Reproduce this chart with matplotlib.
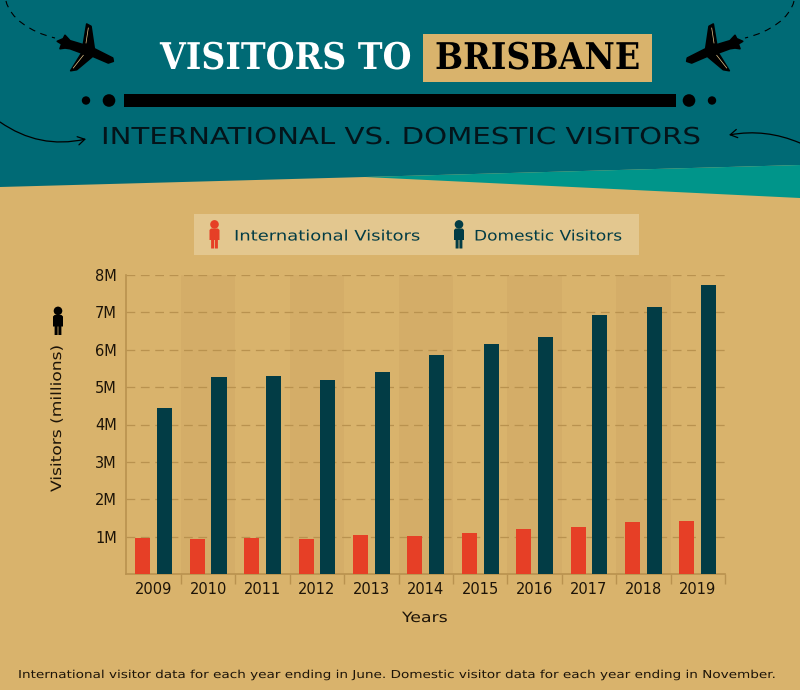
import numpy as np
import matplotlib
matplotlib.use("Agg")
import matplotlib.pyplot as plt
from matplotlib.patches import Polygon, Rectangle, Circle, FancyArrowPatch, PathPatch
from matplotlib.patheffects import AbstractPathEffect
from matplotlib.path import Path
from matplotlib.transforms import Affine2D

years = ["2009", "2010", "2011", "2012", "2013", "2014", "2015", "2016", "2017", "2018", "2019"]
international = [0.95, 0.93, 0.96, 0.93, 1.04, 1.01, 1.10, 1.20, 1.26, 1.38, 1.43]
domestic = [4.44, 5.27, 5.30, 5.18, 5.40, 5.85, 6.15, 6.33, 6.93, 7.15, 7.74]
y_ticks = [1, 2, 3, 4, 5, 6, 7, 8]
y_labels = ["1M", "2M", "3M", "4M", "5M", "6M", "7M", "8M"]

SAND = "#d9b36c"
BAND = "#d4ad68"
TEAL = "#006a75"
TEAL_LIGHT = "#00958a"
RED = "#e63f26"
DARK = "#023c45"
AXIS = "#b9924f"
INK = "#1d1408"

plt.rcParams["font.family"] = "DejaVu Sans"

fig = plt.figure(figsize=(8, 6.9), dpi=100, facecolor=SAND)
renderer = fig.canvas.get_renderer()


class Stretch(AbstractPathEffect):
    """Scale a text's glyphs along one display axis, the fonts here are narrower than the original."""

    def __init__(self, matrix):
        super().__init__()
        self.matrix = matrix

    def draw_path(self, renderer, gc, tpath, affine, rgbFace=None):
        renderer.draw_path(gc, tpath, affine + self.matrix, rgbFace)


def fit_x(text, start, end):
    box = text.get_window_extent(renderer)
    m = Affine2D().translate(-box.x0, 0).scale((end - start) / box.width, 1).translate(start, 0)
    text.set_path_effects([Stretch(m)])


def fit_y(text, top, bottom):
    # top and bottom in picture pixels, counted from the top edge
    box = text.get_window_extent(renderer)
    m = Affine2D().translate(0, -box.y0).scale(1, (bottom - top) / box.height).translate(0, 690 - bottom)
    text.set_path_effects([Stretch(m)])


# background layer in pixel coordinates
bg = fig.add_axes([0, 0, 1, 1])
bg.set_xlim(0, 800)
bg.set_ylim(690, 0)
bg.axis("off")

bg.add_patch(Polygon([(0, 0), (800, 0), (800, 165), (365, 177), (0, 187)], fc=TEAL, ec="none"))
bg.add_patch(Polygon([(365, 177), (800, 165), (800, 198)], fc=TEAL_LIGHT, ec="none"))

PLANE = [(86.7, 24), (91, 26.3), (94.3, 48.7), (112.7, 58), (113.3, 61.3), (108.3, 63), (92.7, 56.3),
         (76.7, 69.7), (70.7, 70.7), (81.7, 53), (70, 48.7), (65, 48), (60, 48.7), (61.7, 44), (57.3, 41.3),
         (63.3, 38.7), (65, 35.3), (70, 40.7), (83.3, 44.7)]


def mx(x, mirror):
    return 800 - x if mirror else x


def draw_plane(mirror):
    bg.add_patch(Polygon([(mx(x, mirror), y) for x, y in PLANE], fc="black", ec="black", lw=1.2, joinstyle="round"))
    bg.plot([mx(88.3, mirror), mx(86, mirror)], [28, 43], color="#e8c98c", lw=0.5)
    bg.plot([mx(83.3, mirror), mx(73.3, mirror)], [55.3, 68], color="#e8c98c", lw=0.5)
    curve = Path([(mx(6, mirror), 1), (mx(10, mirror), 18), (mx(30, mirror), 32), (mx(55, mirror), 38)],
                 [Path.MOVETO, Path.CURVE4, Path.CURVE4, Path.CURVE4])
    bg.add_patch(PathPatch(curve, fc="none", ec="black", lw=0.8, ls=(0, (6, 5))))


draw_plane(False)
draw_plane(True)

bg.add_patch(Rectangle((124, 94), 552, 13, fc="black", ec="none"))
for cx, r in [(86, 4.2), (109, 6.3), (689, 6.3), (712, 4.2)]:
    bg.add_patch(Circle((cx, 100.5), r, fc="black", ec="none"))

bg.add_patch(FancyArrowPatch((0, 122), (86, 139), connectionstyle="arc3,rad=0.22", arrowstyle="->,head_length=5,head_width=3",
                             color="black", lw=0.9, shrinkA=0, shrinkB=0))
bg.add_patch(FancyArrowPatch((800, 143), (729, 135), connectionstyle="arc3,rad=0.15", arrowstyle="->,head_length=5,head_width=3",
                             color="black", lw=0.9, shrinkA=0, shrinkB=0))

bg.add_patch(Rectangle((423, 34), 229, 48, fc=SAND, ec="none"))
title_a = bg.text(285.5, 59, "VISITORS TO", family="DejaVu Serif", weight="bold", fontsize=26.5, color="white", ha="center", va="center")
title_b = bg.text(537, 59, "BRISBANE", family="DejaVu Serif", weight="bold", fontsize=26.5, color="black", ha="center", va="center")
subtitle = bg.text(400, 137.5, "INTERNATIONAL VS. DOMESTIC VISITORS", fontsize=16.8, color="#04141a", ha="center", va="center")
fit_x(title_a, 160, 411)
fit_x(title_b, 435, 640)
fit_x(subtitle, 101, 700)

bg.add_patch(Rectangle((194, 214), 445, 41, fc="#e3c78f", ec="none"))


def draw_person(cx, top, color):
    # head, then torso with arms and legs, 28 px tall
    bg.add_patch(Circle((cx, top + 4.4), 4.3, fc=color, ec="none"))
    bg.add_patch(Polygon([(cx - 3.5, top + 8.5), (cx + 3.5, top + 8.5), (cx + 5, top + 10), (cx + 5, top + 20), (cx + 3.4, top + 20),
                          (cx + 3.4, top + 28.5), (cx + 0.4, top + 28.5), (cx + 0.4, top + 20), (cx - 0.4, top + 20),
                          (cx - 0.4, top + 28.5), (cx - 3.4, top + 28.5), (cx - 3.4, top + 20), (cx - 5, top + 20), (cx - 5, top + 10)],
                         fc=color, ec="none"))


draw_person(214.5, 220, RED)
draw_person(459, 220, DARK)
draw_person(58, 306.5, "black")

legend_a = bg.text(234, 236.5, "International Visitors", fontsize=10.4, color=DARK, ha="left", va="center")
legend_b = bg.text(474, 236.5, "Domestic Visitors", fontsize=10.4, color=DARK, ha="left", va="center")
fit_x(legend_a, 234, 420)
fit_x(legend_b, 474, 622)
footer = bg.text(397, 675, "International visitor data for each year ending in June. Domestic visitor data for each year ending in November.",
                 fontsize=7.9, color=INK, ha="center", va="center")
fit_x(footer, 18, 783)
y_title = bg.text(57, 417, "Visitors (millions)", fontsize=10.2, color=INK, rotation=90, ha="center", va="center")
fit_y(y_title, 344, 492)
x_title = bg.text(425, 618, "Years", fontsize=10.2, color=INK, ha="center", va="center")
fit_x(x_title, 402, 448)

# chart layer
ax = fig.add_axes([126.5 / 800, (690 - 574) / 690, (725 - 126.5) / 800, 299 / 690])
ax.patch.set_alpha(0)
x = np.arange(len(years))
for i in x[1::2]:
    ax.axvspan(i - 0.5, i + 0.5, color=BAND, lw=0, zorder=0)
ax.set_axisbelow(True)
ax.grid(axis="y", color=AXIS, ls=(0, (7, 4.5)), lw=0.9, zorder=1)
ax.bar(x - 0.2, international, width=0.276, color=RED, zorder=3)
ax.bar(x + 0.2, domestic, width=0.276, color=DARK, zorder=3)

ax.set_xlim(-0.5, 10.5)
ax.set_ylim(0, 8)
ax.set_yticks(y_ticks)
ax.set_yticklabels(y_labels, fontsize=10.5, color=INK)
ax.set_xticks(x)
ax.set_xticklabels(years, fontsize=10.5, color=INK)
ax.set_xticks(np.arange(0.5, 11, 1), minor=True)
ax.tick_params(axis="x", which="major", length=0, pad=6)
ax.tick_params(axis="x", which="minor", length=7, width=1, color=AXIS)
ax.tick_params(axis="y", length=0, pad=7)
for side in ["top", "right"]:
    ax.spines[side].set_visible(False)
for side in ["left", "bottom"]:
    ax.spines[side].set_color(AXIS)
    ax.spines[side].set_linewidth(1.2)

fig.savefig("out.png", dpi=100, facecolor=fig.get_facecolor())
